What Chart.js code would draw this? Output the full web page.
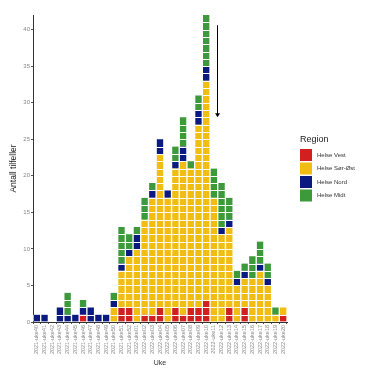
<!DOCTYPE html>
<html>
<head>
<meta charset="utf-8">
<script src="https://cdn.jsdelivr.net/npm/chart.js@4"></script>
<style>
  html, body { margin: 0; padding: 0; background: #fff; }
  #wrap { width: 367px; height: 368px; }
</style>
</head>
<body>
<div id="wrap"><canvas id="myChart" width="367" height="368"></canvas></div>
<script>
// weeks on the x axis
const weeks = ['2021-uke40','2021-uke41','2021-uke42','2021-uke43','2021-uke44','2021-uke45','2021-uke46','2021-uke47','2021-uke48','2021-uke49','2021-uke50','2021-uke51','2021-uke52',
  '2022-uke01','2022-uke02','2022-uke03','2022-uke04','2022-uke05','2022-uke06','2022-uke07','2022-uke08','2022-uke09','2022-uke10','2022-uke11','2022-uke12',
  '2022-uke13','2022-uke14','2022-uke15','2022-uke16','2022-uke17','2022-uke18','2022-uke19','2022-uke20'];

// cases per region, bottom to top of the stack
const helseVest   = [0,0,0,0,0,0,1,0,0,0,0,2,2,0,1,1,2,0,2,1,2,2,3,0,0,2,0,2,0,0,0,0,1];
const helseSorOst = [0,0,0,0,0,0,0,0,0,0,2,5,7,10,13,16,21,17,19,21,19,25,30,17,12,11,5,4,6,7,5,1,1];
const helseNord   = [1,1,0,2,1,1,1,2,1,1,1,1,1,2,0,1,2,1,1,2,0,2,2,0,1,1,1,1,0,1,1,0,0];
const helseMidt   = [0,0,0,0,3,0,1,0,0,0,1,5,2,1,3,1,0,0,2,4,1,2,7,4,6,3,1,1,3,3,2,1,0];

const yTicks = [0, 5, 10, 15, 20, 25, 30, 35, 40];

const regionNames = ['Helse Vest', 'Helse Sør-Øst', 'Helse Nord', 'Helse Midt'];
const regionColors = ['#d21f1f', '#f2bd12', '#0b1a80', '#3c9a3a'];

const FONT = '"Liberation Sans", Arial, sans-serif';

// white lines between every single case inside the bars
const cellLines = {
  id: 'cellLines',
  afterDatasetsDraw(chart) {
    const ctx = chart.ctx;
    const y = chart.scales.y;
    const meta = chart.getDatasetMeta(0);
    ctx.save();
    ctx.strokeStyle = '#ffffff';
    ctx.lineWidth = 1;
    for (let i = 0; i < weeks.length; i++) {
      const total = helseVest[i] + helseSorOst[i] + helseNord[i] + helseMidt[i];
      const bar = meta.data[i];
      const half = bar.width / 2;
      for (let k = 1; k < total; k++) {
        const py = Math.round(y.getPixelForValue(k)) + 0.5;
        ctx.beginPath();
        ctx.moveTo(bar.x - half, py);
        ctx.lineTo(bar.x + half, py);
        ctx.stroke();
      }
    }
    ctx.restore();
  }
};

// the arrow and the legend on the right
const extras = {
  id: 'extras',
  afterDraw(chart) {
    const ctx = chart.ctx;
    const x = chart.scales.x, y = chart.scales.y;
    const ax = Math.round(x.getPixelForValue(23.4)) + 0.5;
    const top = y.getPixelForValue(40.6), tip = y.getPixelForValue(28);
    ctx.save();
    ctx.strokeStyle = '#000';
    ctx.fillStyle = '#000';
    ctx.lineWidth = 1;
    ctx.beginPath();
    ctx.moveTo(ax, top);
    ctx.lineTo(ax, tip - 3);
    ctx.stroke();
    ctx.beginPath();
    ctx.moveTo(ax - 2.5, tip - 4);
    ctx.lineTo(ax + 2.5, tip - 4);
    ctx.lineTo(ax, tip);
    ctx.closePath();
    ctx.fill();

    // legend
    const lx = 300, ly = 140;
    ctx.fillStyle = '#222';
    ctx.font = '9px ' + FONT;
    ctx.textBaseline = 'middle';
    ctx.textAlign = 'left';
    ctx.fillText('Region', lx, ly);
    ctx.font = '6px ' + FONT;
    chart.data.datasets.forEach((ds, i) => {
      const ry = 149 + i * 13.5;
      ctx.fillStyle = ds.backgroundColor;
      ctx.fillRect(lx, ry, 12, 12);
      ctx.fillStyle = '#333';
      ctx.fillText(ds.label, lx + 17, ry + 6);
    });
    ctx.restore();
  }
};

const ctx = document.getElementById('myChart').getContext('2d');
const myChart = new Chart(ctx, {
  type: 'bar',
  data: {
    labels: weeks,
    datasets: [helseVest, helseSorOst, helseNord, helseMidt].map((vals, i) => ({
      label: regionNames[i],
      data: vals,
      backgroundColor: regionColors[i],
      borderColor: '#ffffff',
      borderWidth: { left: 1, right: 1, top: 0, bottom: 0 },
      borderSkipped: false,
      barPercentage: 1,
      categoryPercentage: 1
    }))
  },
  options: {
    responsive: false,
    animation: false,
    devicePixelRatio: 1,
    layout: { padding: { left: 9, right: 80, top: 15, bottom: 0 } },
    plugins: {
      legend: { display: false },
      tooltip: { enabled: false }
    },
    scales: {
      x: {
        stacked: true,
        offset: true,
        grid: { display: true, drawOnChartArea: false, tickLength: 2, color: '#555' },
        border: { display: true, color: '#333', width: 1 },
        ticks: {
          autoSkip: false, minRotation: 90, maxRotation: 90,
          color: '#888', padding: 1,
          font: { family: FONT, size: 5.5 }
        },
        title: {
          display: true, text: 'Uke', color: '#333',
          font: { family: FONT, size: 7 }, padding: { top: 0, bottom: 1 }
        },
        afterFit(scale) { scale.height = 46; }
      },
      y: {
        stacked: true,
        min: 0,
        max: 42,
        grid: { display: true, drawOnChartArea: false, tickLength: 2, color: '#555' },
        border: { display: true, color: '#333', width: 1 },
        afterBuildTicks(scale) { scale.ticks = yTicks.map(v => ({ value: v })); },
        ticks: {
          color: '#888', padding: 1,
          font: { family: FONT, size: 6 }
        },
        title: {
          display: true, text: 'Antall tilfeller', color: '#222',
          font: { family: FONT, size: 8.5 }, padding: { top: 0, bottom: 2 }
        },
        afterFit(scale) { scale.width = 24; }
      }
    }
  },
  plugins: [cellLines, extras]
});
</script>
</body>
</html>
